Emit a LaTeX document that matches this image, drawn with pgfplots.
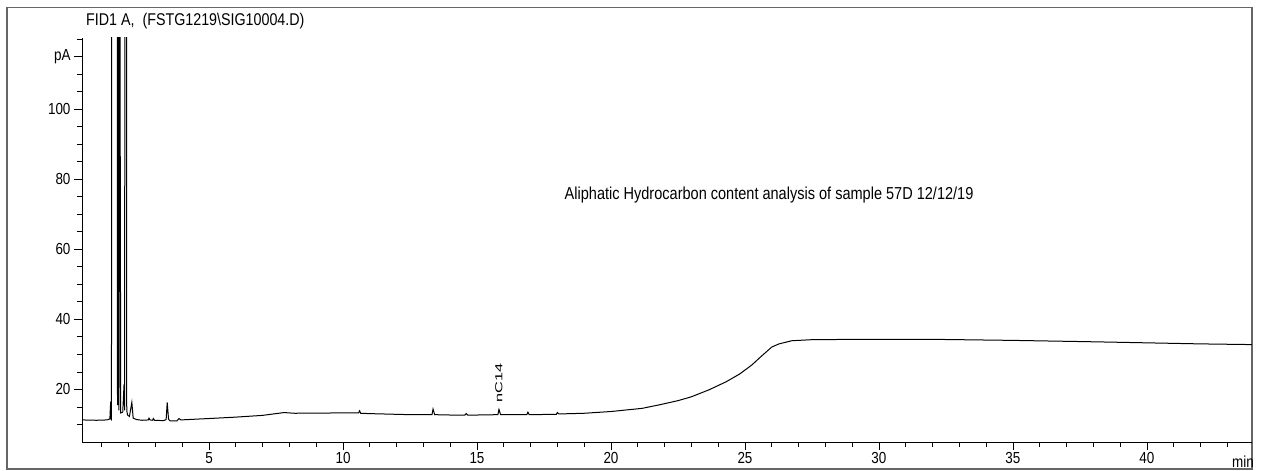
\documentclass[border=0pt]{standalone}
\usepackage{fontspec}
\setmainfont{Liberation Sans}[FakeStretch=0.84]
\newfontfamily\plainsans{Liberation Sans}
\usepackage{graphicx}
\usepackage{pgfplots}
\pgfplotsset{compat=1.18}
\begin{document}
\begin{tikzpicture}[x=1pt,y=1pt]
\path[use as bounding box] (0,0) rectangle (1261,471);
\draw[line width=1.5pt, black!60] (7,2) rectangle (1252,463.5);
\node[anchor=west, font=\fontsize{17}{17}\selectfont, inner sep=0] at (86,450) {FID1 A,\ \ (FSTG1219\textbackslash SIG10004.D)};
\node[font=\fontsize{16}{16}\selectfont, inner sep=0] at (1243,9) {min};
\begin{axis}[
  at={(82pt,29pt)}, anchor=south west, scale only axis,
  width=1170pt, height=404pt,
  xmin=0.26, xmax=43.92, ymin=5, ymax=120.3,
  axis lines=left, axis line style={-, line width=0.8pt},
  xtick={5,10,...,40}, minor xtick={1,2,3,4,6,7,8,9,11,12,13,14,16,17,18,19,21,22,23,24,26,27,28,29,31,32,33,34,36,37,38,39,41,42,43},
  ytick={20,40,60,80,100,115}, yticklabels={20,40,60,80,100,pA},
  minor ytick={10,15,25,30,35,45,50,55,65,70,75,85,90,95,105,110,120},
  tick align=outside, major tick length=8pt, minor tick length=5pt,
  every tick/.style={black, line width=0.8pt},
  ticklabel style={font=\fontsize{16}{16}\selectfont},
  /pgf/number format/assume math mode=true,
  xticklabel style={yshift=1pt},
]
\addplot[black, line width=1pt] coordinates {
(0.26,11.3) (0.8,11.2) (1.2,11.3) (1.30,11.6) (1.33,16.5) (1.35,11.5) (1.36,11.4)
(1.375,400) (1.55,400) (1.585,15.5) (1.60,300) (1.64,14) (1.66,200) (1.705,13.3)
(1.78,13.5) (1.83,21.5) (1.85,14) (1.89,500) (1.93,14) (1.96,12.7) (2.03,12.3)
(2.12,16.3) (2.17,11.8) (2.3,11.4) (2.5,11.2) (2.74,11.3) (2.76,11.8) (2.8,11.3)
(2.90,11.2) (2.92,11.7) (2.97,11.2) (3.3,11.1) (3.40,11.4) (3.44,16.3) (3.49,11.5)
(3.55,11.0) (3.8,11.0) (3.88,11.7) (3.95,11.3) (5.0,11.7) (6.0,12.1) (7.0,12.6)
(7.8,13.4) (8.2,13.2) (9.0,13.25) (10.0,13.3) (10.58,13.3) (10.62,13.9) (10.66,13.2)
(11.0,13.1) (12.0,12.9) (12.5,12.8) (13.0,12.8) (13.32,12.8) (13.36,14.4) (13.42,12.8)
(14.0,12.7) (14.55,12.7) (14.6,13.1) (14.65,12.7) (15.0,12.7) (15.78,12.8) (15.82,14.3)
(15.88,12.8) (16.5,12.8) (16.86,12.8) (16.9,13.5) (16.95,12.8) (17.96,12.9) (18.0,13.4)
(18.05,13.0) (19.0,13.2) (20.0,13.7) (21.16,14.6) (21.8,15.6) (22.5,16.8) (23.0,17.9)
(23.66,19.9) (24.3,22.2) (24.8,24.4) (25.26,27.0) (25.6,29.4) (26.0,32.1) (26.27,33.0)
(26.75,33.9) (27.5,34.2) (29.25,34.3) (32,34.3) (35,34.0) (38,33.6) (40,33.3) (42,33.0)
(43.92,32.8)
};
\node[font=\fontsize{17.3}{17.3}\selectfont] at (axis cs:25.9,75.6) {Aliphatic Hydrocarbon content analysis of sample 57D 12/12/19};
\node[rotate=90, inner sep=0] at (axis cs:15.82,21.9) {\scalebox{1.6}[1]{\plainsans\fontsize{10.2}{10.2}\selectfont nC14}};
\end{axis}
\end{tikzpicture}
\end{document}
